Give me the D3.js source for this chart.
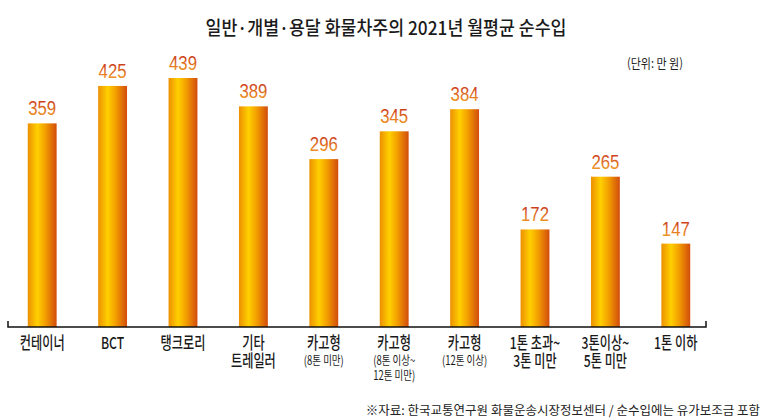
<!DOCTYPE html>
<html>
<head>
<meta charset="utf-8">
<script src="https://cdn.jsdelivr.net/npm/d3@7"></script>
<style>
  body { margin: 0; background: #fff; }
  text { font-family: "Noto Sans CJK KR", "Noto Sans", sans-serif; }
</style>
</head>
<body>
<svg width="770" height="420"></svg>
<script>
// chart data
var values = [359, 425, 439, 389, 296, 345, 384, 172, 265, 147];
var mainLabels = [["컨테이너"], ["BCT"], ["탱크로리"], ["기타", "트레일러"], ["카고형"], ["카고형"], ["카고형"],
    ["1톤 초과~", "3톤 미만"], ["3톤이상~", "5톤 미만"], ["1톤 이하"]];
var subLabels = [[], [], [], [], ["(8톤 미만)"], ["(8톤 이상~", "12톤 미만)"], ["(12톤 이상)"], [], [], []];
var title = "일반·개별·용달 화물차주의 2021년 월평균 순수입";
var unitText = "(단위: 만 원)";
var sourceText = "※자료: 한국교통연구원 화물운송시장정보센터 / 순수입에는 유가보조금 포함";

var svg = d3.select("svg");
var idx = d3.range(values.length);

var x = d3.scaleBand()
    .domain(idx)
    .range([7, 711])
    .paddingInner(0.59)
    .paddingOuter(0.295);

var y = d3.scaleLinear()
    .domain([0, 439])
    .range([327, 78]);

// gradients
var defs = svg.append("defs");
var barGrad = defs.append("linearGradient")
    .attr("id", "barGrad")
    .attr("x1", "0%").attr("x2", "100%").attr("y1", "0%").attr("y2", "0%");
barGrad.selectAll("stop")
    .data([[0, "#ec8f00"], [0.33, "#ffd000"], [0.6, "#f3a000"], [1, "#d24c0c"]])
    .enter().append("stop")
    .attr("offset", function (d) { return d[0]; })
    .attr("stop-color", function (d) { return d[1]; });

var labGrad = defs.append("linearGradient")
    .attr("id", "labGrad")
    .attr("x1", "0%").attr("x2", "0%").attr("y1", "0%").attr("y2", "100%");
labGrad.selectAll("stop")
    .data([[0.15, "#c9361c"], [0.9, "#f3a128"]])
    .enter().append("stop")
    .attr("offset", function (d) { return d[0]; })
    .attr("stop-color", function (d) { return d[1]; });

// condensed text helper
function ctext(g, str, px, py, size, sx, anchor, fill, weight) {
    return g.append("text")
        .attr("transform", "translate(" + px + "," + py + ") scale(" + sx + ",1)")
        .attr("text-anchor", anchor)
        .style("font-size", size + "px")
        .style("font-weight", weight || 400)
        .attr("fill", fill || "#222")
        .text(str);
}

// title + unit
ctext(svg, title, 386, 35, 19, 0.91, "middle", "#1a1a1a", 500);
ctext(svg, unitText, 683, 68, 13, 0.85, "end", "#222");

// bars
svg.append("g")
    .selectAll("rect")
    .data(idx)
    .enter().append("rect")
    .attr("x", function (i) { return x(i); })
    .attr("y", function (i) { return y(values[i]); })
    .attr("width", x.bandwidth())
    .attr("height", function (i) { return y(0) - y(values[i]); })
    .attr("fill", "url(#barGrad)");

// value labels
svg.append("g")
    .selectAll("text")
    .data(idx)
    .enter().append("text")
    .attr("transform", function (i) {
        return "translate(" + (x(i) + x.bandwidth() / 2) + "," + (y(values[i]) - 8) + ") scale(0.8,1)";
    })
    .attr("text-anchor", "middle")
    .style("font-family", "'Liberation Sans', Arial, sans-serif")
    .style("font-size", "21px")
    .attr("fill", "url(#labGrad)")
    .text(function (i) { return values[i]; });

// axis line with end ticks
var x0 = 8, x1 = 706, y0 = y(0);
svg.append("path")
    .attr("d", "M" + x0 + "," + (y0 - 6) + "V" + y0 + "H" + x1 + "V" + (y0 - 6))
    .attr("fill", "none")
    .attr("stroke", "#111")
    .attr("stroke-width", 1.5);

// category labels
var cat = svg.append("g");
idx.forEach(function (i) {
    var cx = x(i) + x.bandwidth() / 2;
    mainLabels[i].forEach(function (s, k) {
        ctext(cat, s, cx, 349 + k * 17.5, 16.5, 0.74, "middle", "#1a1a1a", 500);
    });
    subLabels[i].forEach(function (s, k) {
        ctext(cat, s, cx, 365 + k * 14.5, 12.5, 0.76, "middle", "#1a1a1a", 400);
    });
});

// source note
ctext(svg, sourceText, 760, 415, 12.5, 1.0, "end", "#222");
</script>
</body>
</html>
